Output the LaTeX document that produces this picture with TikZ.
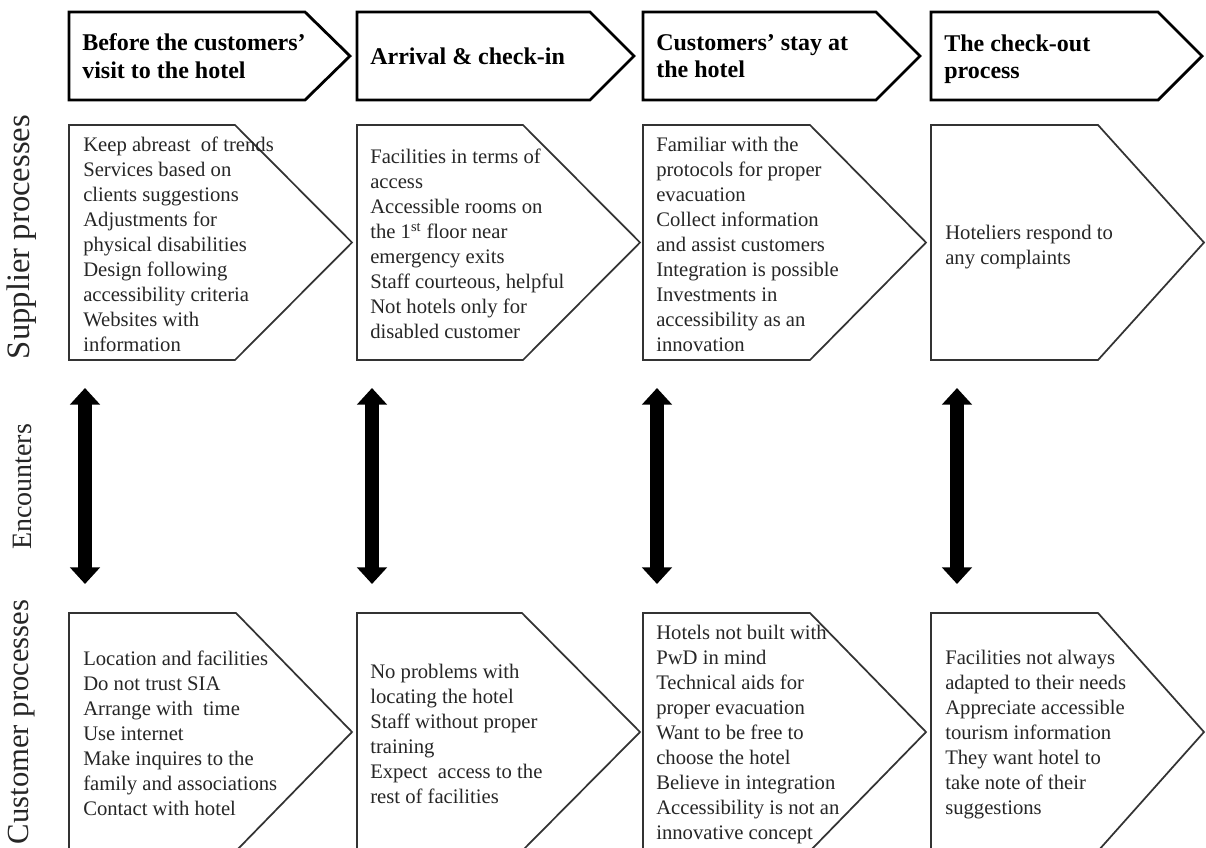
\documentclass[tikz,border=0pt]{standalone}
\usepackage{fontspec}
\setmainfont{Liberation Serif}
\usetikzlibrary{arrows.meta}
\newcommand\chevbox[6]{\draw[#1] (#2,#3) -- (#4,#3) -- (#5,{(#3+#6)/2}) -- (#4,#6) -- (#2,#6) -- cycle;}
\tikzset{
  hdrbox/.style={draw=black, line width=2.1pt, line join=miter, fill=white},
  procbox/.style={draw=black!80, line width=1.3pt, line join=miter, fill=white},
  bodytext/.style={anchor=west, align=left, inner sep=0pt, text=black!85,
    font=\fontsize{15.5}{18.75}\selectfont},
  hdrtext/.style={anchor=west, align=left, inner sep=0pt,
    font=\fontsize{18}{20.5}\selectfont\bfseries},
  sidelabel/.style={rotate=90, inner sep=0pt, text=black!85},
  encarrow/.style={line width=11pt,
    {Triangle[width=22pt,length=12.5pt]}-{Triangle[width=22pt,length=12.5pt]}}
}
\begin{document}
\begin{tikzpicture}[x=0.75pt,y=-0.75pt]
\useasboundingbox (0,0) rectangle (1206,847);
\clip (0,0) rectangle (1206,847);
\fill[white] (0,0) rectangle (1206,847);
% header chevrons
\chevbox{hdrbox}{69}{12}{305}{350}{100}
\chevbox{hdrbox}{357}{12}{590}{634}{100}
\chevbox{hdrbox}{643}{12}{876}{920}{100}
\chevbox{hdrbox}{931}{12}{1158}{1202}{100}
\node[hdrtext] (h1) at (82,56) {Before the customers’\\visit to the hotel};
\node[hdrtext] (h2) at (370,56) {Arrival \& check-in};
\node[hdrtext] (h3) at (656,56) {Customers’ stay at\\the hotel};
\node[hdrtext] (h4) at (944,59) {The check-out\\process};
% supplier processes
\chevbox{procbox}{69}{125}{235}{352}{360}
\chevbox{procbox}{357}{125}{523}{640}{360}
\chevbox{procbox}{643}{125}{810}{926}{360}
\chevbox{procbox}{931}{125}{1098}{1204}{360}
\node[bodytext] (s1) at (83,244) {Keep abreast\ \ of trends\\Services based on\\clients suggestions\\Adjustments for\\physical disabilities\\Design following\\accessibility criteria\\Websites with\\information};
\node[bodytext] (s2) at (370,244) {Facilities in terms of\\access\\Accessible rooms on\\the 1\textsuperscript{st} floor near\\emergency exits\\Staff courteous, helpful\\Not hotels only for\\disabled customer};
\node[bodytext] (s3) at (656,244) {Familiar with the\\protocols for proper\\evacuation\\Collect information\\and assist customers\\Integration is possible\\Investments in\\accessibility as an\\innovation};
\node[bodytext] (s4) at (945,247) {Hoteliers respond to\\any complaints};
% customer processes
\chevbox{procbox}{69}{613}{236}{352}{851}
\chevbox{procbox}{357}{613}{522}{640}{851}
\chevbox{procbox}{643}{613}{810}{926}{851}
\chevbox{procbox}{931}{613}{1098}{1204}{851}
\node[bodytext] (c1) at (83,733) {Location and facilities\\Do not trust SIA\\Arrange with\ \ time\\Use internet\\Make inquires to the\\family and associations\\Contact with hotel};
\node[bodytext] (c2) at (370,734) {No problems with\\locating the hotel\\Staff without proper\\training\\Expect\ \ access to the\\rest of facilities};
\node[bodytext] (c3) at (656,735) {Hotels not built with\\PwD in mind\\Technical aids for\\proper evacuation\\Want to be free to\\choose the hotel\\Believe in integration\\Accessibility is not an\\innovative concept};
\node[bodytext] (c4) at (945,735) {Facilities not always\\adapted to their needs\\Appreciate accessible\\tourism information\\They want hotel to\\take note of their\\suggestions};
% side labels
\node[sidelabel, font=\fontsize{24.5}{28}\selectfont] (lsup) at (22,237) {Supplier processes};
\node[sidelabel, font=\fontsize{21}{24}\selectfont] (lenc) at (22,487) {Encounters};
\node[sidelabel, font=\fontsize{23}{26}\selectfont] (lcus) at (22,722) {Customer processes};
% encounter arrows
\coordinate (e1t) at (85,388);  \coordinate (e1b) at (85,584);
\coordinate (e2t) at (372,388); \coordinate (e2b) at (372,584);
\coordinate (e3t) at (657,388); \coordinate (e3b) at (657,584);
\coordinate (e4t) at (957,388); \coordinate (e4b) at (957,584);
\draw[encarrow] (e1t) -- (e1b);
\draw[encarrow] (e2t) -- (e2b);
\draw[encarrow] (e3t) -- (e3b);
\draw[encarrow] (e4t) -- (e4b);
\end{tikzpicture}
\end{document}
